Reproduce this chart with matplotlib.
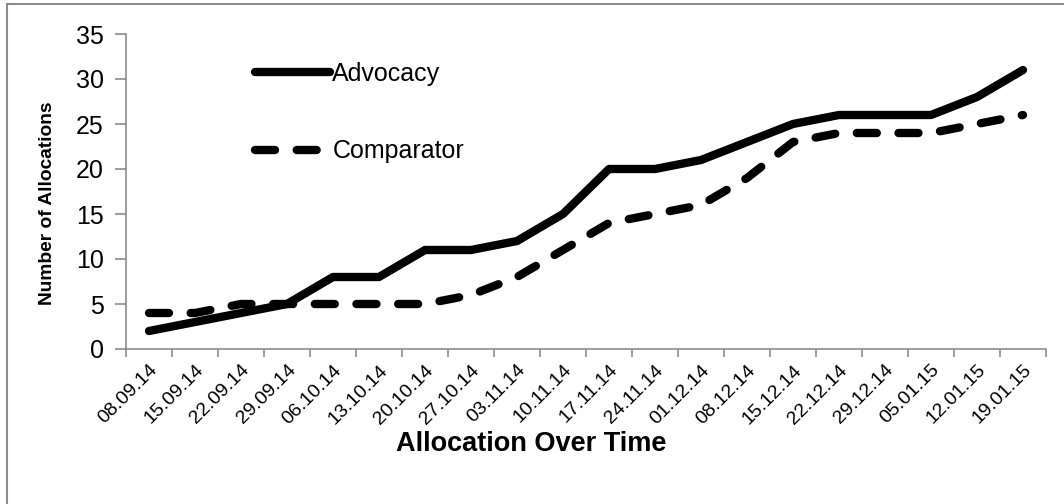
import matplotlib.pyplot as plt
import numpy as np
from matplotlib.patches import Rectangle

plt.rcParams['font.family'] = ['Liberation Sans', 'DejaVu Sans']

dates = ['08.09.14', '15.09.14', '22.09.14', '29.09.14', '06.10.14', '13.10.14',
         '20.10.14', '27.10.14', '03.11.14', '10.11.14', '17.11.14', '24.11.14',
         '01.12.14', '08.12.14', '15.12.14', '22.12.14', '29.12.14', '05.01.15',
         '12.01.15', '19.01.15']
advocacy = [2, 3, 4, 5, 8, 8, 11, 11, 12, 15, 20, 20, 21, 23, 25, 26, 26, 26, 28, 31]
comparator = [4, 4, 5, 5, 5, 5, 5, 6, 8, 11, 14, 15, 16, 19, 23, 24, 24, 24, 25, 26]

W, H = 1064, 504
fig = plt.figure(figsize=(W / 100, H / 100), dpi=100)
ax = fig.add_axes([126 / W, 1 - 349 / H, 920 / W, 315 / H])

# outer chart border (left and top visible only)
fig.patches.append(Rectangle((7 / W, -0.1), 1.2, 1.1 - 4 / H, transform=fig.transFigure,
                             fill=False, edgecolor='#8c8c8c', linewidth=1.5))

x = np.arange(len(dates))
ax.plot(x, advocacy, color='black', lw=6, solid_capstyle='round',
        solid_joinstyle='round', label='Advocacy')
ax.plot(x, comparator, color='black', lw=6, dashes=(2.4, 2.6), dash_capstyle='round',
        dash_joinstyle='round', label='Comparator')

ax.set_xlim(-0.5, len(dates) - 0.5)
ax.set_ylim(0, 35)
ax.set_yticks(range(0, 36, 5))
ax.set_xticks(x)
ax.set_xticklabels(dates, rotation=45, ha='right', rotation_mode='anchor', fontsize=14)
ax.set_xticks(np.arange(-0.5, len(dates), 1), minor=True)
ax.tick_params(axis='x', which='major', length=0, pad=9)
ax.tick_params(axis='x', which='minor', length=6, color='#8c8c8c', width=1.2)
ax.tick_params(axis='y', length=8, color='#8c8c8c', width=1.2, labelsize=18, pad=8)

for s in ['top', 'right']:
    ax.spines[s].set_visible(False)
for s in ['left', 'bottom']:
    ax.spines[s].set_color('#8c8c8c')
    ax.spines[s].set_linewidth(1.2)

ax.set_xlabel('Allocation Over Time', fontsize=19.5, fontweight='bold')
ax.xaxis.set_label_coords(0.44, -0.26)
ax.set_ylabel('Number of Allocations', fontsize=13.8, fontweight='bold')
ax.yaxis.set_label_coords(-0.076, 0.463)

ax.legend(loc='upper left', bbox_to_anchor=(0.14, 0.912), frameon=False, fontsize=18,
          handlelength=3.0, handletextpad=0.1, labelspacing=2.15,
          borderpad=0, borderaxespad=0)

fig.savefig('out.png', dpi=100)
